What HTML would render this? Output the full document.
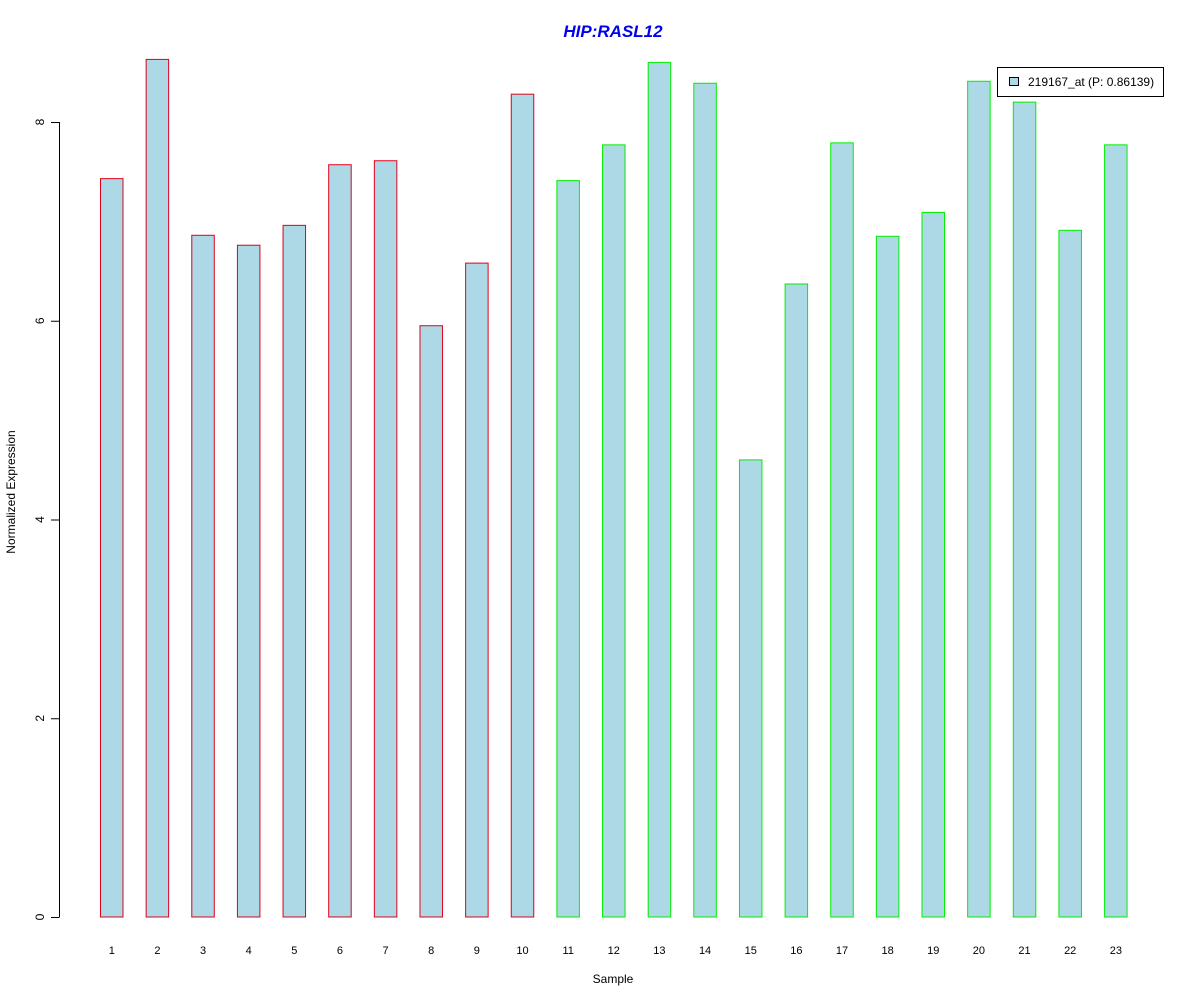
<!DOCTYPE html>
<html><head><meta charset="utf-8"><style>
body{margin:0;background:#fff}
svg{display:block;font-family:"Liberation Sans",Arial,sans-serif}
</style></head><body>
<svg id="chart" width="1200" height="1000">
<text x="613" y="37" text-anchor="middle" font-size="17" font-weight="bold" font-style="italic" fill="#0000ee">HIP:RASL12</text>
<text x="613" y="983" text-anchor="middle" font-size="12">Sample</text>
<text transform="translate(15,492) rotate(-90)" text-anchor="middle" font-size="12">Normalized Expression</text>
<g id="yaxis"></g>
<g id="bars"></g>
<g id="xlabels"></g>
<g>
<rect x="997.5" y="67.5" width="166" height="29" fill="#fff" stroke="#000"/>
<rect x="1009.5" y="77.5" width="9" height="8" fill="#add8e6" stroke="#000"/>
<text x="1028" y="86" font-size="12">219167_at (P: 0.86139)</text>
</g>
</svg>
<script>
const categories=["1","2","3","4","5","6","7","8","9","10","11","12","13","14","15","16","17","18","19","20","21","22","23"];
const values=[7.43,8.63,6.86,6.76,6.96,7.57,7.61,5.95,6.58,8.28,7.41,7.77,8.60,8.39,4.60,6.37,7.79,6.85,7.09,8.41,8.20,6.91,7.77];
const groups=["r","r","r","r","r","r","r","r","r","r","g","g","g","g","g","g","g","g","g","g","g","g","g"];
const yTicks=[0,2,4,6,8];
const NS="http://www.w3.org/2000/svg";
const y=v=>917-v*99.375;
const xl=i=>100.5+i*45.64;
const bw=22.5;
const ya=document.getElementById('yaxis');
let l=document.createElementNS(NS,'line');
l.setAttribute('x1',59.5);l.setAttribute('x2',59.5);l.setAttribute('y1',y(0));l.setAttribute('y2',y(8));l.setAttribute('stroke','#000');


ya.appendChild(l);
yTicks.forEach(t=>{
 const tk=document.createElementNS(NS,'line');
 tk.setAttribute('x1',51);tk.setAttribute('x2',59.5);tk.setAttribute('y1',y(t)+.5);tk.setAttribute('y2',y(t)+.5);tk.setAttribute('stroke','#000');
 
 
 ya.appendChild(tk);
 const tx=document.createElementNS(NS,'text');
 tx.setAttribute('transform',`translate(44,${y(t)}) rotate(-90)`);tx.setAttribute('text-anchor','middle');tx.setAttribute('font-size','12');
 tx.textContent=t;
 
 
 ya.appendChild(tx);
});
const bg=document.getElementById('bars'),xg=document.getElementById('xlabels');
values.forEach((v,i)=>{
 const r=document.createElementNS(NS,'rect');
 r.setAttribute('x',xl(i));r.setAttribute('y',y(v));r.setAttribute('width',bw);r.setAttribute('height',y(0)-y(v));
 r.setAttribute('fill','#add8e6');r.setAttribute('stroke',groups[i]=="r"?'#e0001a':'#00ee00');
 
 
 bg.appendChild(r);
 const t=document.createElementNS(NS,'text');
 t.setAttribute('x',xl(i)+bw/2);t.setAttribute('y',954);t.setAttribute('text-anchor','middle');t.setAttribute('font-size','11');
 t.textContent=categories[i];
 
 
 xg.appendChild(t);
});
</script>
</body></html>
